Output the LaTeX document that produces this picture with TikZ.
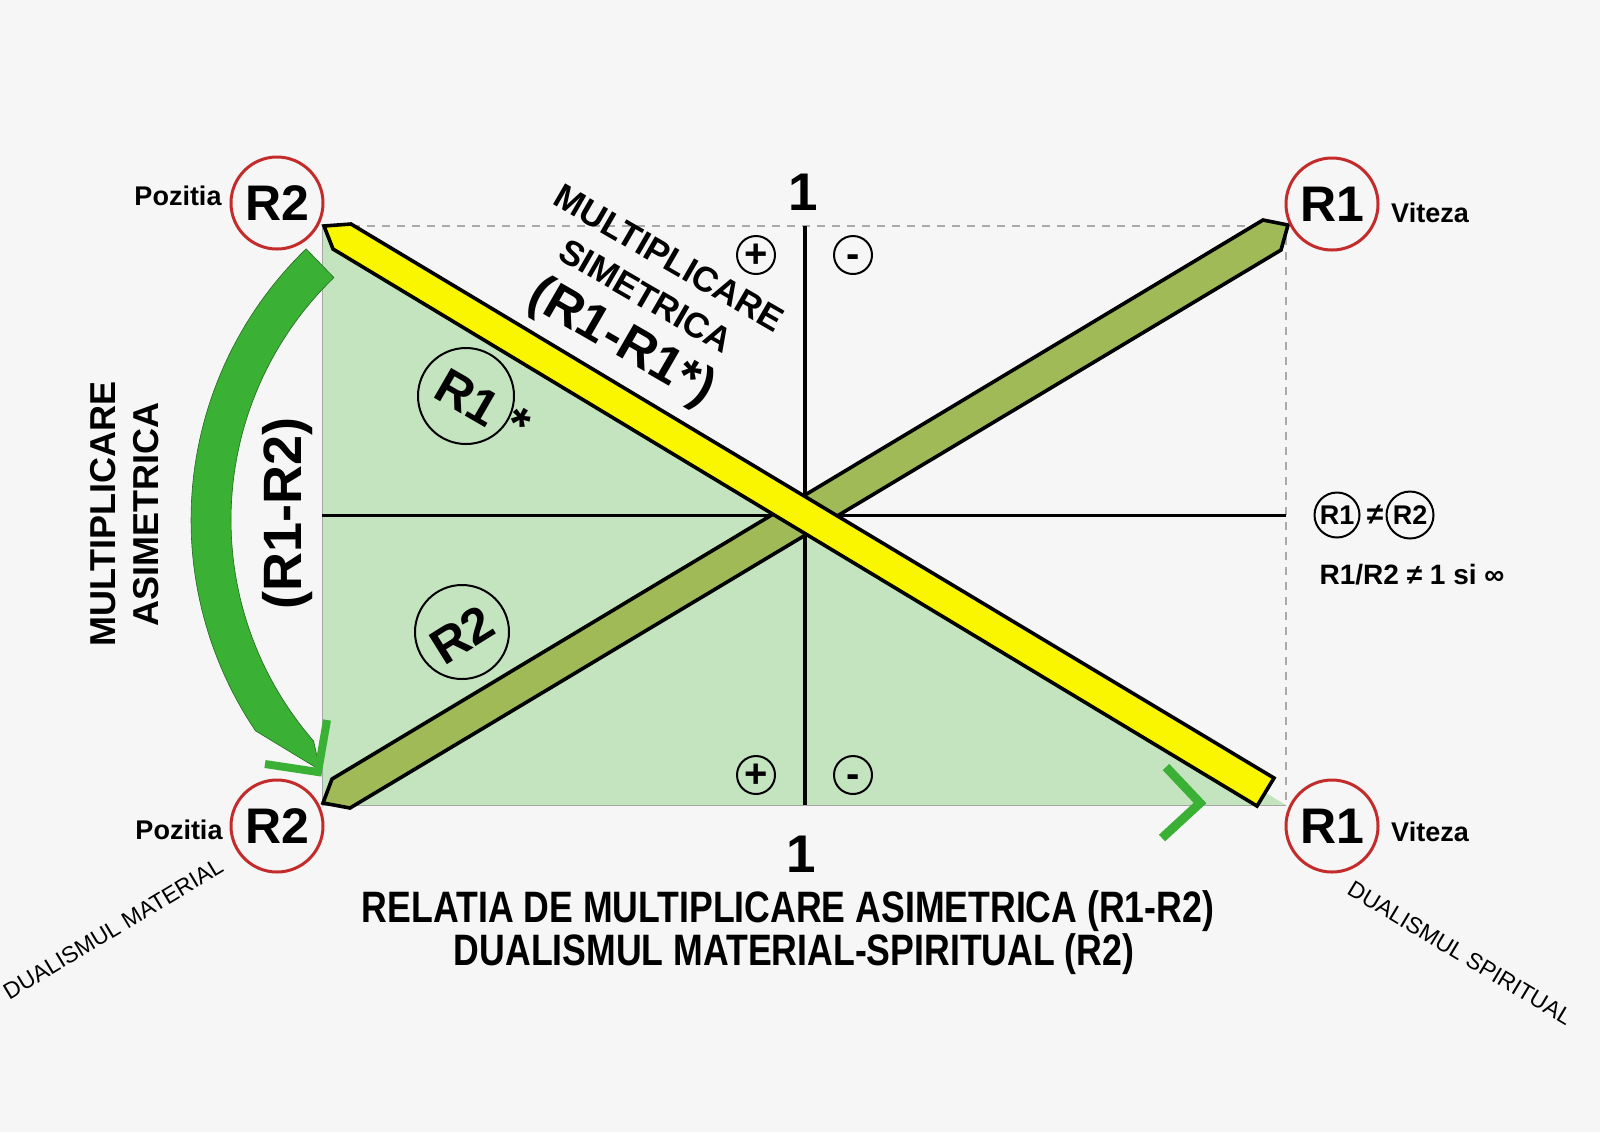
\documentclass[tikz,border=0pt]{standalone}
\usepackage{fontspec}
\setmainfont{Liberation Sans}
\newcommand{\fsz}[1]{\fontsize{#1}{#1}\selectfont}
\definecolor{bgc}{RGB}{246,246,246}
\definecolor{tric}{RGB}{196,228,192}
\definecolor{ylwc}{RGB}{250,246,0}
\definecolor{olvc}{RGB}{160,186,88}
\definecolor{grnc}{RGB}{58,176,52}
\definecolor{redc}{RGB}{196,44,44}
\definecolor{dashc}{RGB}{170,170,170}
\begin{document}
\begin{tikzpicture}[x=0.5pt,y=-0.5pt,
  bigc/.style={circle, draw=redc, line width=1.5pt, minimum size=46pt, inner sep=0pt, font=\fsz{25}\bfseries},
  lab/.style={font=\fsz{13.5}\bfseries, inner sep=0pt},
  pmc/.style={circle, draw, line width=1pt, minimum size=19pt, inner sep=0pt, font=\fsz{20}\bfseries, text height=12pt, text depth=0pt},
  inc/.style={circle, draw, line width=1pt, inner sep=0pt},
  incl/.style={font=\fsz{25}\bfseries, inner sep=0pt},
  smc/.style={circle, draw, line width=1pt, inner sep=0pt, font=\fsz{13.5}\bfseries},
  bar/.style={draw=black, line width=1.8pt, line join=miter},
  chev/.style={draw=grnc, line join=miter}
]
\fill[bgc] (0,0) rectangle (1600,1132);
\useasboundingbox (0,0) rectangle (1600,1132);

% frame
\coordinate (TL) at (322,226);
\coordinate (BL) at (322,805);
\coordinate (BR) at (1286,805);
\coordinate (TR) at (1286,226);
\fill[tric] (TL) -- (BL) -- (BR) -- cycle;
\draw[gray!70, line width=0.4pt] (TL) -- (BL) -- (BR);
\draw[dashc, line width=0.6pt, dash pattern=on 4pt off 3.5pt] (TL) -- (TR) -- (BR);

% axes
\coordinate (AT) at (805,226);
\coordinate (AB) at (805,805);
\coordinate (AL) at (322,515);
\coordinate (AR) at (1286,515);
\draw[line width=1.6pt] (AT) -- (AB);
\draw[line width=1.5pt] (AL) -- (AR);

% olive bar
\draw[bar, fill=olvc] (323,803) -- (332,779) -- (1263,220) -- (1288,225) -- (1281,250) -- (350,808) -- cycle;
% yellow bar
\draw[bar, fill=ylwc] (324,226) -- (351,224) -- (1274,778) -- (1257,806) -- (333,249) -- cycle;

% green curved arrow
\fill[grnc, draw=grnc!60!black, line width=0.3pt]
  plot[domain=226:146, samples=60] ({568+377*cos(\x)},{520+377*sin(\x)})
  -- (320,770)
  -- plot[domain=139:226, samples=60] ({568+337*cos(\x)},{520+337*sin(\x)})
  -- cycle;
\draw[chev, line width=4pt] (327,720) -- (318,772) -- (265,764);
% small chevron bottom right
\draw[chev, line width=4.5pt] (1166,767) -- (1200,803) -- (1162,838);

% corner circles
\node[bigc] (R2t) at (277,203) {R2};
\node[bigc] (R2b) at (277,826) {R2};
\node[bigc] (R1t) at (1332,204) {R1};
\node[bigc] (R1b) at (1332,826) {R1};
\node[lab] (pz1) at (178,196) {Pozitia};
\node[lab] (pz2) at (179,830) {Pozitia};
\node[lab] (vt1) at (1430,213) {Viteza};
\node[lab] (vt2) at (1430,832) {Viteza};

% ones
\node[font=\fsz{26.5}\bfseries, inner sep=0pt] (one1) at (803,192) {1};
\node[font=\fsz{26.5}\bfseries, inner sep=0pt] (one2) at (801,854) {1};

% plus / minus
\node[pmc] (p1) at (756,255) {+};
\node[pmc] (m1) at (853,255) {-};
\node[pmc] (p2) at (756,775) {+};
\node[pmc] (m2) at (853,775) {-};

% inner circles
\node[inc, minimum size=48pt] (c1) at (466,396) {};
\node[incl, rotate=-30] (c1t) at (468,398) {R1};
\node[incl, rotate=-30] (c1s) at (518,424) {*};
\node[inc, minimum size=47pt] (c2) at (462,632) {};
\node[incl, rotate=32] (c2t) at (462,635) {R2};

% rotated texts
\node[rotate=-30, font=\fsz{17.5}\bfseries] (ms1) at (669,258) {MULTIPLICARE};
\node[rotate=-30, font=\fsz{17.5}\bfseries] (ms2) at (646,296) {SIMETRICA};
\node[rotate=-30, font=\fsz{26}\bfseries] (ms3) at (621,343) {(R1-R1*)};

\node[rotate=90, font=\fsz{18}\bfseries] (ma1) at (103,514) {MULTIPLICARE};
\node[rotate=90, font=\fsz{18}\bfseries] (ma2) at (146,514) {ASIMETRICA};
\node[rotate=90, font=\fsz{27}\bfseries] (ma3) at (288,513) {(R1-R2)};

\node[rotate=31, font=\fsz{11.5}] (dm) at (113,929) {DUALISMUL MATERIAL};
\node[rotate=-31, font=\fsz{11.5}] (ds) at (1460,953) {DUALISMUL SPIRITUAL};

% right side relation
\node[smc, minimum size=22.5pt] (s1) at (1337,515) {R1};
\node[font=\fsz{15}\bfseries, inner sep=0pt] (ne) at (1375,515) {≠};
\node[smc, minimum size=23.5pt] (s2) at (1410,515) {R2};
\node[font=\fsz{14}\bfseries] (rr) at (1412,575) {R1/R2 ≠ 1 si ∞};

% bottom title
\node[font=\fsz{22}\bfseries] (t1) at (788,911) {\scalebox{0.81}[1]{RELATIA DE MULTIPLICARE ASIMETRICA (R1-R2)}};
\node[font=\fsz{22}\bfseries] (t2) at (794,954) {\scalebox{0.81}[1]{DUALISMUL MATERIAL-SPIRITUAL (R2)}};
\end{tikzpicture}
\end{document}
